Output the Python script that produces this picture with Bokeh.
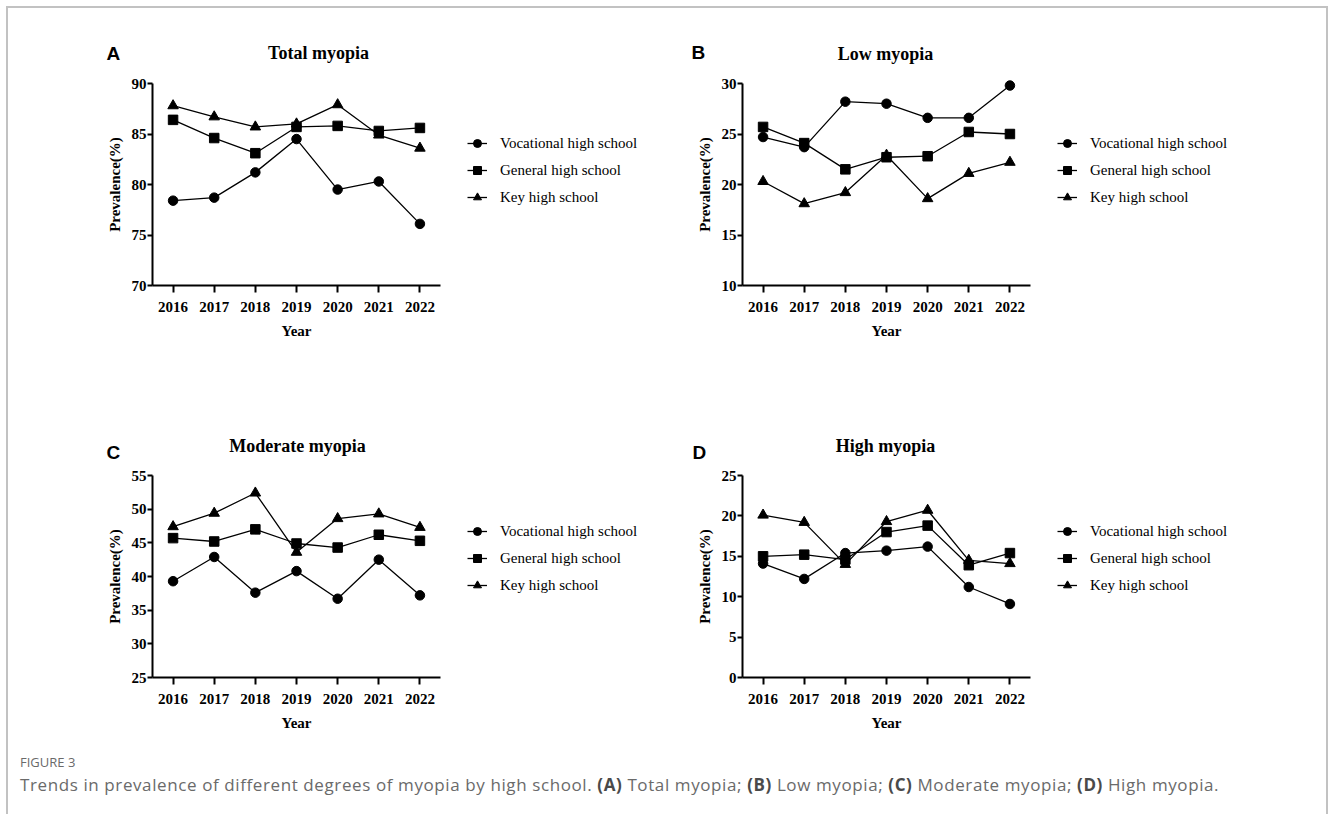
from bokeh.plotting import figure
from bokeh.models import (Range1d, FixedTicker, Legend, LegendItem, Label, Div,
                          ColumnDataSource)
from bokeh.layouts import column, row
from bokeh.embed import file_html
from bokeh.resources import INLINE

years = [2016, 2017, 2018, 2019, 2020, 2021, 2022]
series_names = ["Vocational high school", "General high school", "Key high school"]

total_voc = [78.4, 78.7, 81.2, 84.5, 79.5, 80.3, 76.1]
total_gen = [86.4, 84.6, 83.1, 85.7, 85.8, 85.3, 85.6]
total_key = [87.8, 86.7, 85.7, 86.0, 87.9, 84.9, 83.6]

low_voc = [24.7, 23.7, 28.2, 28.0, 26.6, 26.6, 29.8]
low_gen = [25.7, 24.1, 21.5, 22.7, 22.8, 25.2, 25.0]
low_key = [20.3, 18.1, 19.2, 22.9, 18.6, 21.1, 22.2]

mod_voc = [39.3, 42.9, 37.6, 40.8, 36.7, 42.5, 37.2]
mod_gen = [45.7, 45.2, 47.0, 44.9, 44.3, 46.2, 45.3]
mod_key = [47.4, 49.4, 52.4, 43.6, 48.6, 49.3, 47.3]

high_voc = [14.1, 12.2, 15.4, 15.7, 16.2, 11.2, 9.1]
high_gen = [15.0, 15.2, 14.6, 18.0, 18.8, 13.9, 15.4]
high_key = [20.1, 19.2, 14.0, 19.3, 20.7, 14.5, 14.1]

SERIF = "Liberation Serif"
SANS = "Liberation Sans"

FRAME_W = 288.0
FRAME_H = 202.0
X0, X1 = 2015.5, 2022.5


def panel(letter, title, voc, gen, key, ymin, ymax,
          cx, cy, w, h, fx, fy, title_pos, letter_pos, legend_pos):
    """cx, cy: canvas top-left on page; fx, fy: axes corner (left/top) on page."""
    xpu = FRAME_W / (X1 - X0)
    ypu = FRAME_H / float(ymax - ymin)

    def dx(px):
        return X0 + (px - fx) / xpu

    def dy(py):
        return ymax - (py - fy) / ypu

    src = ColumnDataSource(dict(year=years, voc=voc, gen=gen, key=key))
    p = figure(width=w, height=h, output_backend="svg", toolbar_location=None,
               x_range=Range1d(dx(cx), dx(cx + w)), y_range=Range1d(dy(cy + h), dy(cy)),
               min_border=0, background_fill_color="white", border_fill_color="white")
    p.outline_line_color = None
    p.xgrid.visible = False
    p.ygrid.visible = False

    p.xaxis.ticker = FixedTicker(ticks=years)
    p.yaxis.ticker = FixedTicker(ticks=list(range(ymin, ymax + 1, 5)))
    p.xaxis.fixed_location = ymin
    p.yaxis.fixed_location = X0
    p.xaxis.bounds = (X0, X1)
    p.yaxis.bounds = (ymin, ymax)
    p.xaxis.axis_label = "Year"
    p.yaxis.axis_label = "Prevalence(%)"
    for ax in (p.xaxis[0], p.yaxis[0]):
        ax.axis_line_color = "black"
        ax.axis_line_width = 2
        ax.major_tick_line_color = "black"
        ax.major_tick_line_width = 2
        ax.major_tick_in = 0
        ax.minor_tick_line_color = None
        ax.major_label_text_font = SERIF
        ax.major_label_text_font_style = "bold"
        ax.major_label_text_font_size = "15px"
        ax.major_label_text_color = "black"
        ax.axis_label_text_font = SERIF
        ax.axis_label_text_font_style = "bold"
        ax.axis_label_text_font_size = "15px"
        ax.axis_label_text_color = "black"
    p.xaxis.major_tick_out = 7
    p.yaxis.major_tick_out = 5
    p.xaxis.major_label_standoff = 9
    p.yaxis.major_label_standoff = 1
    p.xaxis.axis_label_standoff = 8
    p.yaxis.axis_label_standoff = 6

    items = []
    for col, marker, size, name in (("voc", "circle", 9.5, series_names[0]),
                                    ("gen", "square", 9.5, series_names[1]),
                                    ("key", "triangle", 10.5, series_names[2])):
        lr = p.line("year", col, source=src, line_color="black", line_width=1.3)
        sr = p.scatter("year", col, source=src, marker=marker, size=size,
                       fill_color="black", line_color="black")
        items.append(LegendItem(label=name, renderers=[lr, sr]))

    leg_h = 3 * 20 + 2 * 7
    lx, ly = legend_pos  # page coords of legend top-left
    legend = Legend(items=items, location=(lx - cx, h - (ly - cy) - leg_h),
                    glyph_width=20, glyph_height=20, label_height=20,
                    label_standoff=13, spacing=7, padding=0, margin=0,
                    border_line_color=None, background_fill_alpha=0,
                    label_text_font=SERIF, label_text_font_size="15px",
                    label_text_color="black")
    p.add_layout(legend, "center")

    tx, ty = title_pos
    p.add_layout(Label(x=dx(tx), y=dy(ty), text=title,
                       text_align="center", text_baseline="middle",
                       text_font=SERIF, text_font_style="bold",
                       text_font_size="18px", text_color="black"))
    lxx, lyy = letter_pos
    p.add_layout(Label(x=dx(lxx), y=dy(lyy), text=letter,
                       text_align="left", text_baseline="middle",
                       text_font=SANS, text_font_style="bold",
                       text_font_size="19px", text_color="black"))
    return p


OX, OY = 8, 8
WA, WB = 650, 668
H1, H2 = 392, 340

pA = panel("A", "Total myopia", total_voc, total_gen, total_key, 70, 90,
           OX, OY, WA, H1, 152, 83, (318, 52), (106, 53), (467, 133))
pB = panel("B", "Low myopia", low_voc, low_gen, low_key, 10, 30,
           OX + WA, OY, WB, H1, 742, 83, (885, 53), (691, 52), (1057, 133))
pC = panel("C", "Moderate myopia", mod_voc, mod_gen, mod_key, 25, 55,
           OX, OY + H1, WA, H2, 152, 475, (297, 445), (106, 452), (467, 521))
pD = panel("D", "High myopia", high_voc, high_gen, high_key, 0, 25,
           OX + WA, OY + H1, WB, H2, 742, 475, (885, 445), (692, 452), (1057, 521))

caption = Div(
    text=('<div style="font-family:\'Open Sans\';color:#6a6a6a;padding-left:12px;letter-spacing:0.6px;">'
          '<div style="font-size:13px;line-height:16px;margin-top:14px;letter-spacing:0;">FIGURE 3</div>'
          '<div style="font-size:17px;line-height:22px;margin-top:4px;">'
          'Trends in prevalence of different degrees of myopia by high school. '
          '<b style="color:#4a4a4a;">(A)</b> Total myopia; <b style="color:#4a4a4a;">(B)</b> Low myopia; '
          '<b style="color:#4a4a4a;">(C)</b> Moderate myopia; <b style="color:#4a4a4a;">(D)</b> High myopia.'
          '</div></div>'),
    width=WA + WB, height=74, margin=0)

layout = column(row(pA, pB), row(pC, pD), caption, margin=(6, 0, 0, 6),
                styles={"border-top": "2px solid #c2c2c2",
                        "border-left": "2px solid #c2c2c2",
                        "border-right": "2px solid #c2c2c2"})

open("out.html", "w").write(file_html(layout, INLINE))
